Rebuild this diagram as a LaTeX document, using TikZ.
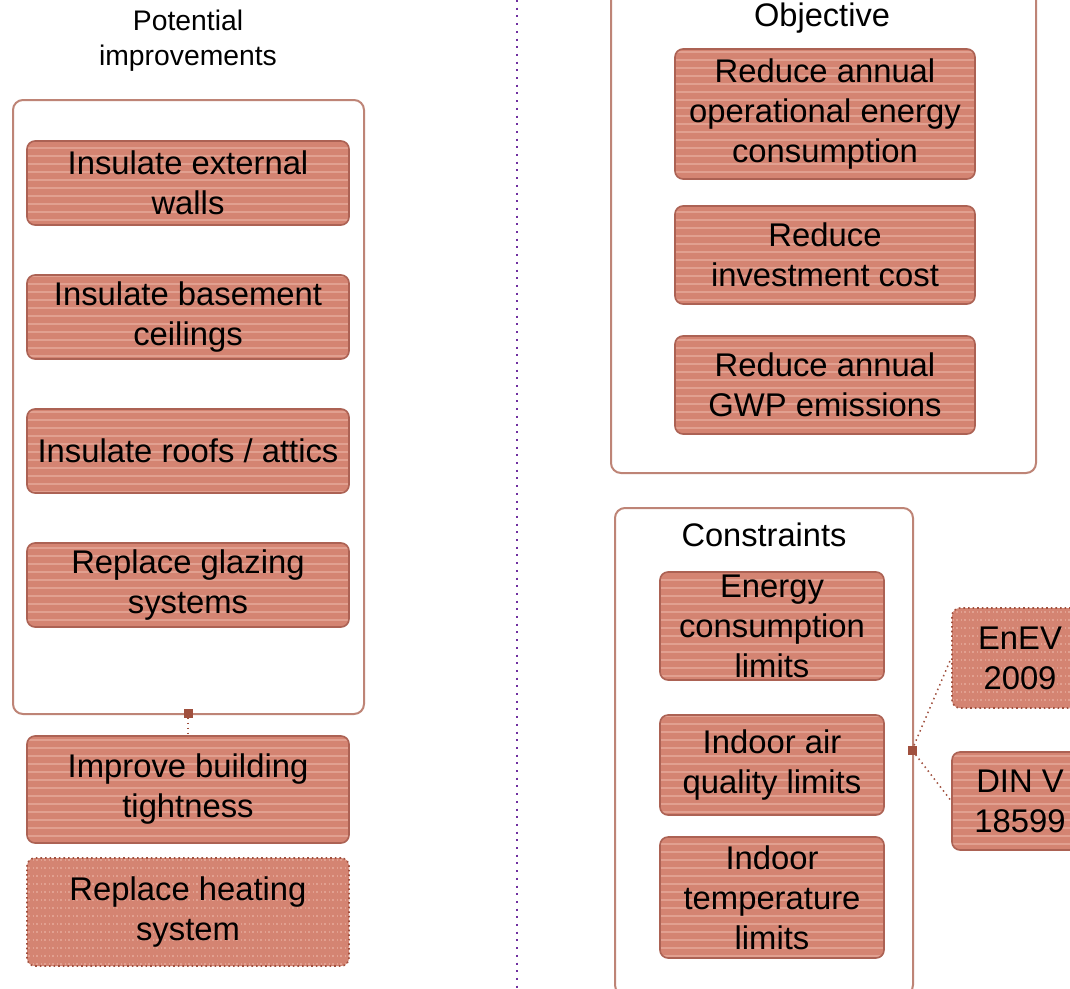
\documentclass[tikz,border=0pt]{standalone}
\usepackage{fontspec}
\setmainfont{Liberation Sans}
\usetikzlibrary{patterns.meta}
\definecolor{boxfill}{RGB}{212,132,114}
\definecolor{boxstripe}{RGB}{225,160,144}
\definecolor{boxline}{RGB}{172,98,84}
\definecolor{frameline}{RGB}{190,132,118}
\definecolor{linkcol}{RGB}{160,80,62}
\definecolor{divider}{RGB}{112,48,160}
\tikzset{
  item/.style={rounded corners=8pt, line width=1.6pt, draw=boxline,
    preaction={fill=boxfill},
    pattern={Lines[angle=0,distance=8pt,line width=2pt]}, pattern color=boxstripe,
    align=center, inner sep=0pt, text=black,
    font=\fontsize{32.8}{40}\selectfont},
  optional/.style={draw=linkcol, dash pattern=on 1.6pt off 3pt},
  frame/.style={rounded corners=10pt, draw=frameline, line width=2pt, fill=white, inner sep=0pt},
  title/.style={align=center, font=\fontsize{32.6}{40}\selectfont},
  joint/.style={fill=linkcol, minimum size=9pt, inner sep=0pt},
  link/.style={draw=linkcol, line width=1.5pt, dash pattern=on 1.5pt off 3.5pt}
}
\begin{document}
\begin{tikzpicture}[x=1pt, y=-1pt]
\clip (0,0) rectangle (1070,988);
\fill[white] (0,0) rectangle (1070,988);

% divider between the two halves
\draw[divider, line width=2pt, dash pattern=on 2pt off 5.7pt] (517,0) -- (517,988);

% left half: candidate measures
\node[title, font=\fontsize{28.3}{35}\selectfont] (pottitle) at (188,40.5) {Potential\\improvements};
\node[frame, minimum width=351pt, minimum height=614pt] (potframe) at (188.5,407) {};
\node[item, minimum width=322pt, minimum height=84pt] (walls) at (188,183) {Insulate external\\walls};
\node[item, minimum width=322pt, minimum height=84pt] (basement) at (188,317) {Insulate basement\\ceilings};
\node[item, minimum width=322pt, minimum height=84pt] (roofs) at (188,451) {Insulate roofs / attics};
\node[item, minimum width=322pt, minimum height=84pt] (glazing) at (188,585) {Replace glazing\\systems};
\node[item, minimum width=322pt, minimum height=107pt] (tight) at (188,789.5) {Improve building\\tightness};
\node[item, optional, minimum width=322pt, minimum height=108pt] (heating) at (188,912) {Replace heating\\system};
\node[joint] (potjoint) at (188,713) {};
\draw[link] (potjoint) -- (tight.north);

% right half: objectives
\node[frame, minimum width=425pt, minimum height=493pt] (objframe) at (823.5,226.5) {};
\node[title] (objtitle) at (822,18.5) {Objective};
\node[item, minimum width=300pt, minimum height=130pt] (energy) at (825,114) {Reduce annual\\operational energy\\consumption};
\node[item, minimum width=300pt, minimum height=98pt] (cost) at (825,255) {Reduce\\investment cost};
\node[item, minimum width=300pt, minimum height=98pt] (gwp) at (825,385) {Reduce annual\\GWP emissions};

% right half: constraints
\node[frame, minimum width=298pt, minimum height=487pt] (conframe) at (764,751.5) {};
\node[title] (contitle) at (764,535) {Constraints};
\node[item, minimum width=224pt, minimum height=108pt] (enlim) at (772,626) {Energy\\consumption\\limits};
\node[item, minimum width=224pt, minimum height=100pt] (airlim) at (772,765) {Indoor air\\quality limits};
\node[item, minimum width=224pt, minimum height=121pt] (templim) at (772,897.5) {Indoor\\temperature\\limits};
\node[joint] (conjoint) at (912,750) {};
\node[item, optional, minimum width=136pt, minimum height=100pt] (enev) at (1020,658) {EnEV\\2009};
\node[item, minimum width=136pt, minimum height=98pt] (din) at (1020,801) {DIN V\\18599};
\draw[link] (conjoint) -- (enev.west);
\draw[link] (conjoint) -- (din.west);
\end{tikzpicture}
\end{document}
